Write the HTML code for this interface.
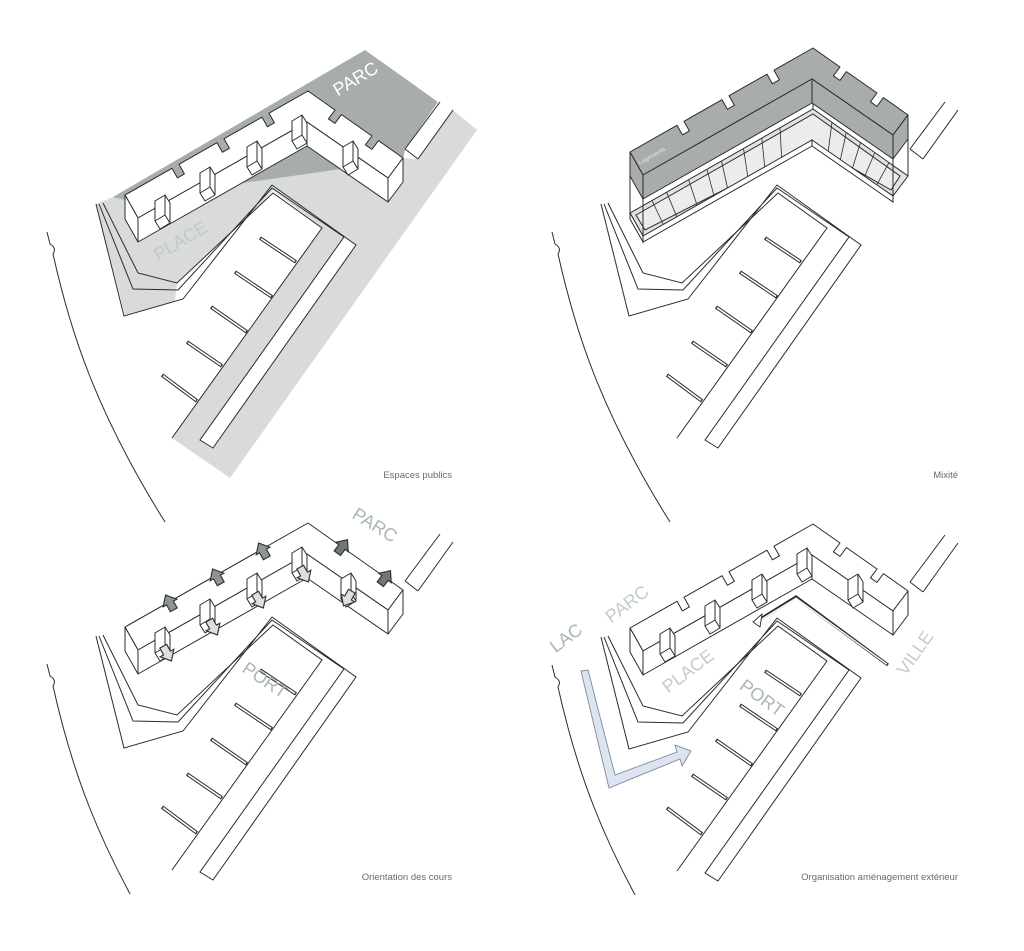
<!DOCTYPE html>
<html><head><meta charset="utf-8"><style>
html,body{margin:0;padding:0;background:#fff;}
svg{display:block;}
text{font-family:"Liberation Sans",sans-serif;}
.cap{font-size:9.5px;fill:#6a6a6a;}
</style></head><body>
<svg width="1024" height="951" viewBox="0 0 1024 951" xmlns="http://www.w3.org/2000/svg">
<defs>
<clipPath id="clipb"><rect x="0" y="0" width="1024" height="462"/></clipPath>
<g id="site" fill="none" stroke="#2b2b2b" stroke-width="1">
  <polyline points="96,204 124,316 183,299 272,185 356,245 213,448 200,440 344,237 272,188 178,290 133,289 99,204"/>
  <polyline points="103,203 138,273 177,283 273,193 322,228 172,438"/>
  <polyline points="405,149 440,102"/>
  <polyline points="418,159 453,110"/>
  <polyline points="405,149 418,159"/>
</g>
<path id="curve" fill="none" stroke="#2b2b2b" stroke-width="1" d="M47,232 L50,244 Q57,248 53,254 C70,330 95,410 165,522"/>
<g id="jet" stroke-linecap="butt">
  <g stroke="#2b2b2b" stroke-width="3.6">
    <line x1="260" y1="238" x2="296" y2="262"/><line x1="235" y1="272" x2="272" y2="297"/>
    <line x1="211" y1="307" x2="247" y2="332"/><line x1="187" y1="342" x2="222" y2="366"/>
    <line x1="162" y1="375" x2="197" y2="401"/>
  </g>
  <g stroke="#fff" stroke-width="1.6">
    <line x1="261" y1="238.7" x2="295" y2="261.3"/><line x1="236" y1="272.7" x2="271" y2="296.3"/>
    <line x1="212" y1="307.7" x2="246" y2="331.3"/><line x1="188" y1="342.7" x2="221" y2="365.3"/>
    <line x1="163" y1="375.7" x2="196" y2="400.3"/>
  </g>
</g>
<g id="court" fill="#fff" stroke="#2b2b2b" stroke-width="1">
  <path d="M0,4 l10,-6 l5,8 v20 l-10,6 l-5,-8 z"/><path d="M10,-2 v20 l-10,6 M10,18 l5,8"/>
</g>
<g id="bldg" stroke="#2b2b2b" stroke-width="1" stroke-linejoin="round">
  <path d="M125,195 L172,168.3 L177.4,177.9 L184.4,173.9 L179,164.3 L217,142.7 L222.4,152.3 L229.4,148.3 L224,138.7 L262,117.2 L267.4,126.8 L274.4,122.8 L269,113.2 L308,91 L335,110 L328.4,118.8 L334.9,123.4 L341.5,114.6 L372,136 L365.4,144.8 L371.9,149.4 L378.5,140.6 L403,158 L388,178 L307,122 L138,218 Z"/>
  <path d="M138,218 L307,122 L307,146 L138,242 Z"/>
  <path d="M307,122 L388,178 L388,202 L307,146 Z"/>
  <path d="M388,178 L403,158 L403,182 L388,202 Z"/>
  <path d="M125,195 L138,218 L138,242 L125,219 Z"/>
</g>
</defs>

<!-- ===== Panel 1: Espaces publics ===== -->
<polygon fill="#d9dbdb" points="96,204 113,197 403,158 418,159 453,110 477,130 230,478 172,438 322,228 273,190 183,299 125,315"/>
<polygon fill="#a7adad" points="113,197 365,50 438,102 405,149 403,160 125,200"/>
<polygon fill="#fff" points="273,193 322,228 172,438 160,420 177,283"/>
<polygon fill="#fff" points="200,440 344,237 356,245 213,448"/>
<polygon fill="#fff" points="405,149 440,102 453,110 418,159"/>
<use href="#site"/><use href="#curve"/>
<use href="#jet"/>
<g fill="#fff"><use href="#bldg"/></g>
<use href="#court" x="155" y="197"/><use href="#court" x="200" y="169"/><use href="#court" x="247" y="143"/><use href="#court" x="292" y="117"/><use href="#court" x="343" y="143"/>
<text x="355" y="85" font-size="18" fill="#fff" text-anchor="middle" transform="rotate(-31 355 78)">PARC</text>
<text x="180" y="247" font-size="18" fill="#c3c8c8" text-anchor="middle" transform="rotate(-31 180 240)">PLACE</text>
<text class="cap" x="452" y="478" text-anchor="end">Espaces publics</text>

<!-- ===== Panel 2: Mixité ===== -->
<g transform="translate(505,0)"><use href="#site"/><use href="#curve"/><use href="#jet"/></g>
<g stroke="#2b2b2b" stroke-width="1" fill="none">
  <polygon fill="#e2e2e2" points="630,213 813,109 908,176 893,196 812,140 643,236"/>
  <polygon fill="#ececec" points="636,215 813,114 900,176 891,190 812,145 645,230"/>
  <path fill="#fff" d="M643,236 L812,140 L812,146 L643,242 Z M812,140 L893,196 L893,202 L812,146 Z M630,213 L643,236 L643,242 L630,219 Z"/>
  <path stroke-width="0.8" d="M652,200.5 L663.3,224.5 M666.6,192.2 L676.8,216.8 M688.6,179.7 L697.1,205.3 M706.9,169.3 L714,195.7 M721.5,161 L727.5,188 M743.5,148.5 L747.8,176.5 M761.8,138.1 L764.7,166.9 M780,127.7 L781.6,157.3 M832,122.4 L828.2,151.2 M846.3,132.5 L840.4,159.6 M860.5,142.5 L852.5,168 M874.8,152.6 L864.7,176.4 M889,162.6 L876.8,184.8"/>
  <path d="M630,152 L630,213 M643,199 L643,236 M908,115 L908,176 M893,159 L893,196 M813,48 L813,109"/>
</g>
<g transform="translate(505,-43)" fill="#a8acac"><use href="#bldg"/></g>
<text x="640" y="165" font-size="6" fill="#e8e8e8" transform="rotate(-30 640 165)">Logements</text>
<text class="cap" x="958" y="478" text-anchor="end">Mixité</text>

<!-- ===== Panel 3: Orientation des cours ===== -->
<g transform="translate(0,432)">
  <use href="#site"/><use href="#curve" clip-path="url(#clipb)"/><use href="#jet"/>
  <g stroke="#2b2b2b" stroke-width="1" fill="#fff" stroke-linejoin="round">
    <path d="M125,195 L308,91 L403,158 L388,178 L307,122 L138,218 Z"/>
    <path d="M138,218 L307,122 L307,146 L138,242 Z"/>
    <path d="M307,122 L388,178 L388,202 L307,146 Z"/>
    <path d="M388,178 L403,158 L403,182 L388,202 Z"/>
    <path d="M125,195 L138,218 L138,242 L125,219 Z"/>
  </g>
  <use href="#court" x="155" y="197"/><use href="#court" x="200" y="169"/><use href="#court" x="247" y="143"/><use href="#court" x="292" y="117"/><use href="#court" x="341" y="143"/>
</g>
<g stroke="#333" stroke-width="0.9">
  <g fill="#8e9595">
    <polygon transform="translate(170,603) rotate(-29) scale(1.3)" points="-3,6 -3,0 -6,0 0,-7 6,0 3,0 3,6"/>
    <polygon transform="translate(217,577) rotate(-29) scale(1.3)" points="-3,6 -3,0 -6,0 0,-7 6,0 3,0 3,6"/>
    <polygon transform="translate(263,551) rotate(-29) scale(1.3)" points="-3,6 -3,0 -6,0 0,-7 6,0 3,0 3,6"/>
    <polygon fill="#6f7777" transform="translate(342,547) rotate(37) scale(1.3)" points="-3,6 -3,0 -6,0 0,-7 6,0 3,0 3,6"/>
    <polygon fill="#6f7777" transform="translate(385,578) rotate(37) scale(1.3)" points="-3,6 -3,0 -6,0 0,-7 6,0 3,0 3,6"/>
  </g>
  <g fill="#dde0e0">
    <polygon transform="translate(167,653) rotate(151) scale(1.3)" points="-3,6 -3,0 -6,0 0,-7 6,0 3,0 3,6"/>
    <polygon transform="translate(213,627) rotate(151) scale(1.3)" points="-3,6 -3,0 -6,0 0,-7 6,0 3,0 3,6"/>
    <polygon transform="translate(259,600) rotate(151) scale(1.3)" points="-3,6 -3,0 -6,0 0,-7 6,0 3,0 3,6"/>
    <polygon transform="translate(304,574) rotate(151) scale(1.3)" points="-3,6 -3,0 -6,0 0,-7 6,0 3,0 3,6"/>
    <polygon transform="translate(348,598) rotate(210) scale(1.3)" points="-3,6 -3,0 -6,0 0,-7 6,0 3,0 3,6"/>
  </g>
</g>
<text x="375" y="531" font-size="18" fill="#aab6b6" text-anchor="middle" transform="rotate(32 375 525)">PARC</text>
<text x="265" y="686" font-size="18" fill="#aab6b6" text-anchor="middle" transform="rotate(34 265 680)">PORT</text>
<text class="cap" x="452" y="880" text-anchor="end">Orientation des cours</text>

<!-- ===== Panel 4: Organisation aménagement extérieur ===== -->
<g transform="translate(505,433)">
  <use href="#site"/><use href="#curve" clip-path="url(#clipb)"/><use href="#jet"/>
  <g fill="#fff"><use href="#bldg"/></g>
  <use href="#court" x="155" y="197"/><use href="#court" x="200" y="169"/><use href="#court" x="247" y="143"/><use href="#court" x="292" y="117"/><use href="#court" x="343" y="143"/>
</g>
<g fill="none" stroke="#2b2b2b" stroke-width="3.2"><polyline points="888,665 796,597 759,620"/></g>
<g fill="none" stroke="#fff" stroke-width="1.4"><polyline points="887,664.3 796,598.2 760,620.3"/></g>
<polygon fill="#fff" stroke="#2b2b2b" stroke-width="0.9" points="753,622 762,614 760,627"/>
<polygon fill="#dbe4f0" stroke="#7f8a99" stroke-width="0.9" points="581,671 588,670 615,775 677,752 675,745 691,751 682,766 680,759 609,788"/>
<g font-size="18" fill="#c4cccc" text-anchor="middle">
  <text x="566" y="644" fill="#aab6ba" transform="rotate(-37 566 638)">LAC</text>
  <text x="627" y="610" transform="rotate(-37 627 604)">PARC</text>
  <text x="688" y="677" transform="rotate(-37 688 671)">PLACE</text>
  <text x="762" y="704" fill="#aab6b6" transform="rotate(36 762 698)">PORT</text>
  <text x="915" y="659" transform="rotate(-55 915 653)">VILLE</text>
</g>
<text class="cap" x="958" y="880" text-anchor="end">Organisation aménagement extérieur</text>
</svg>
</body></html>
